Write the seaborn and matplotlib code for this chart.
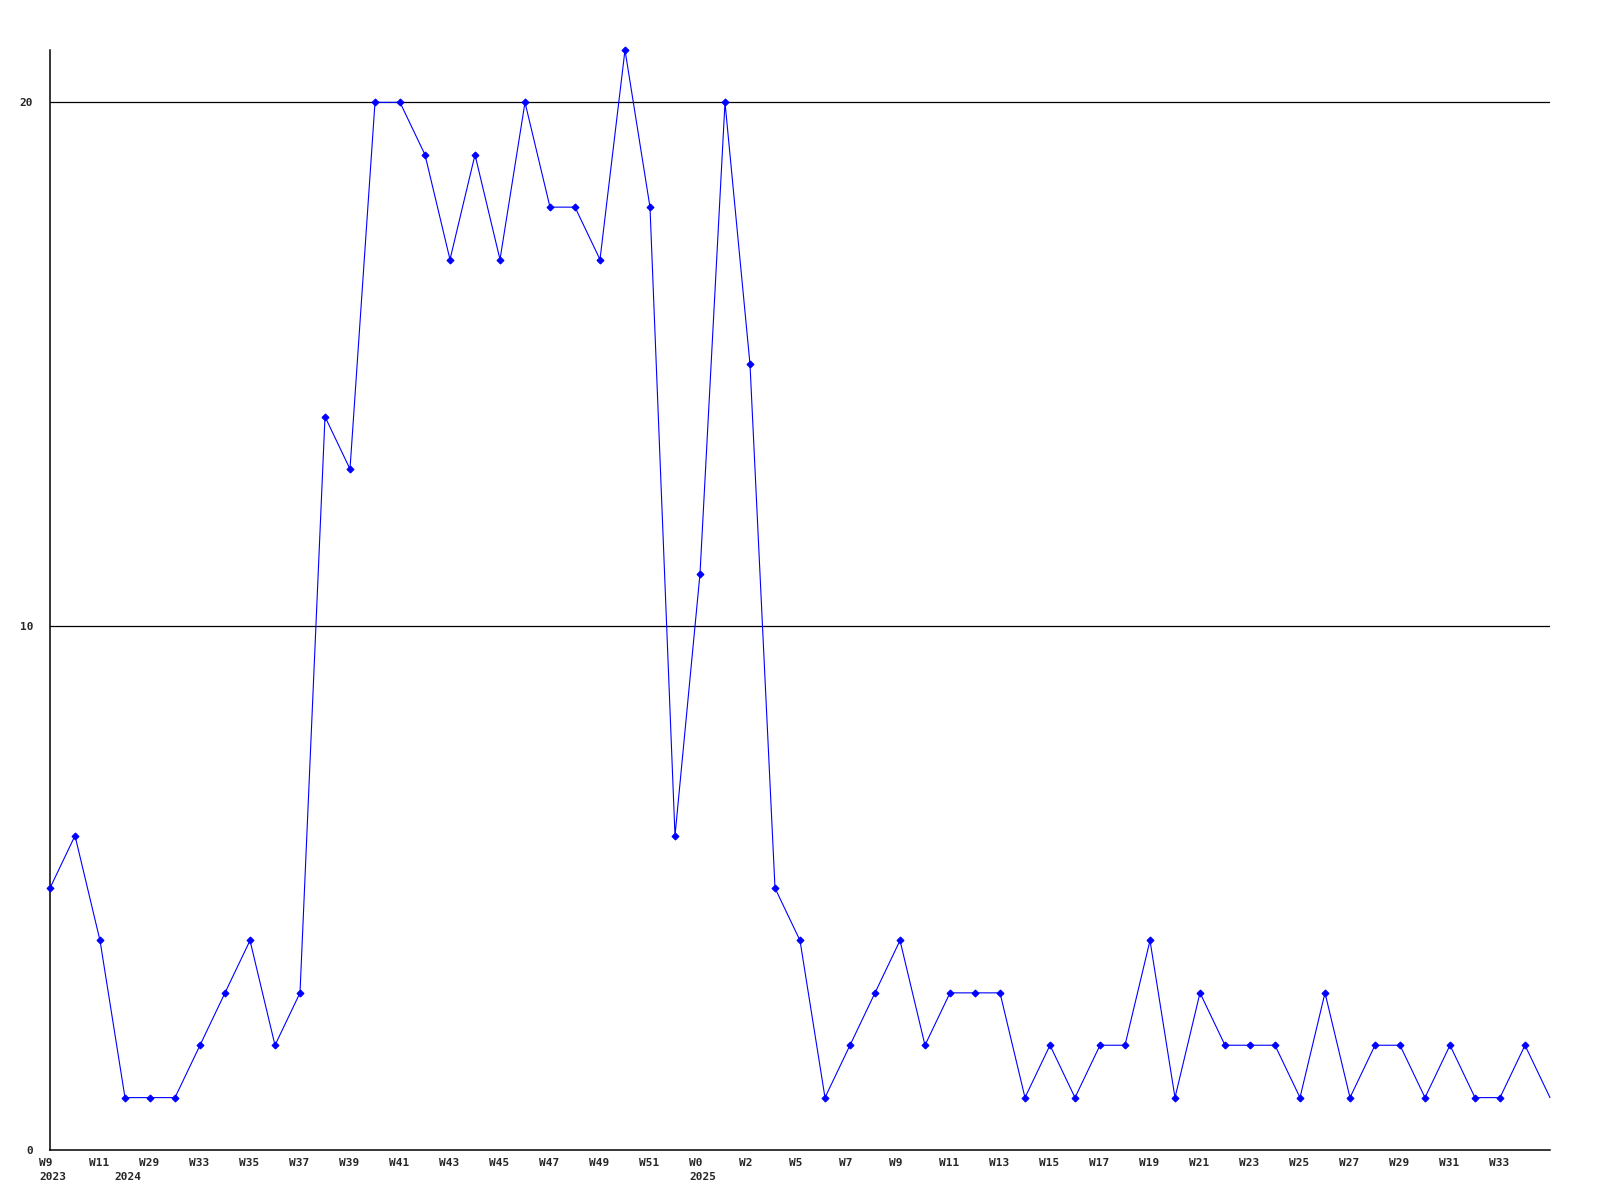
import numpy as np
import pandas as pd
import matplotlib
matplotlib.use("Agg")
import matplotlib.pyplot as plt
import matplotlib.transforms as mtransforms
import seaborn as sns

# weekly counts, one value per week in order
counts = [5, 6, 4, 1, 1, 1, 2, 3, 4, 2, 3, 14, 13, 20, 20, 19, 17, 19, 17, 20,
          18, 18, 17, 21, 18, 6, 11, 20, 15, 5, 4, 1, 2, 3, 4, 2, 3, 3, 3, 1,
          2, 1, 2, 2, 4, 1, 3, 2, 2, 2, 1, 3, 1, 2, 2, 1, 2, 1, 1, 2, 1]

# week labels shown on every second point
week_labels = ["W9", "W11", "W29", "W33", "W35", "W37", "W39", "W41", "W43",
               "W45", "W47", "W49", "W51", "W0", "W2", "W5", "W7", "W9", "W11",
               "W13", "W15", "W17", "W19", "W21", "W23", "W25", "W27", "W29",
               "W31", "W33"]
year_pos = [0, 3, 26]
year_labels = ["2023", "2024", "2025"]

df = pd.DataFrame({"idx": np.arange(len(counts)), "count": counts})

sns.set_style("white")
plt.rcParams["font.family"] = ["DejaVu Sans Mono"]
plt.rcParams["font.weight"] = "bold"

fig = plt.figure(figsize=(16, 12), dpi=100)
ax = fig.add_axes([50 / 1600, 50 / 1200, 1500 / 1600, 1100 / 1200])

sns.lineplot(data=df, x="idx", y="count", ax=ax, color="#0000ff", lw=0.8,
             marker="D", markersize=3.5, markeredgewidth=0.8,
             markeredgecolor="#0000ff", markerfacecolor="#0000ff",
             markevery=list(range(len(counts) - 1)), clip_on=False, zorder=3)

ax.set_xlim(0, len(counts) - 1)
ax.set_ylim(0, 21)

for v in [10, 20]:
    ax.axhline(v, color="black", lw=0.9, zorder=1)

for s in ["top", "right"]:
    ax.spines[s].set_visible(False)
for s in ["left", "bottom"]:
    ax.spines[s].set_color("black")
    ax.spines[s].set_linewidth(1.1)

ax.set_yticks([0, 10, 20])
ax.set_yticklabels(["0", "10", "20"], fontsize=8, fontweight="bold")
ax.set_xticks(np.arange(0, 2 * len(week_labels), 2))
ax.set_xticklabels(week_labels, fontsize=8, fontweight="bold", ha="left")
ax.tick_params(axis="x", length=0, pad=5.5)
ax.tick_params(axis="y", length=0, pad=12)

shift = mtransforms.ScaledTranslation(-11 / 100, 0, fig.dpi_scale_trans)
for lab in ax.get_xticklabels():
    lab.set_transform(lab.get_transform() + shift)

for p, y in zip(year_pos, year_labels):
    ax.annotate(y, xy=(p, 0), xycoords=("data", "axes fraction"),
                xytext=(-11 * 0.72, -27 * 0.72), textcoords="offset points",
                ha="left", va="center", fontsize=8, fontweight="bold")

ax.set_xlabel("")
ax.set_ylabel("")

plt.savefig("out.png", dpi=100)
